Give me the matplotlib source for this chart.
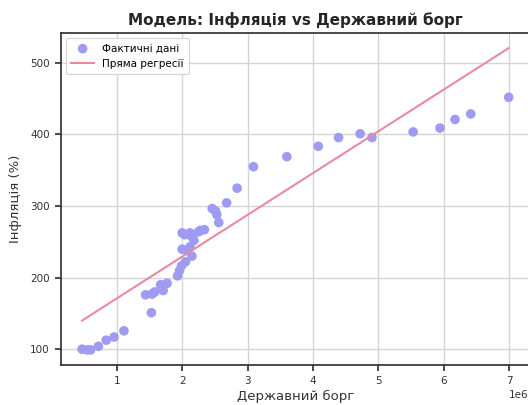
import numpy as np
import matplotlib
matplotlib.use("Agg")
import matplotlib.pyplot as plt

# Державний борг (units) and інфляція (%) observations
debt_m = [0.47, 0.55, 0.60, 0.72, 0.84, 0.96, 1.11,
          1.44, 1.53, 1.54, 1.58, 1.67, 1.71, 1.77,
          1.93, 1.96, 1.99, 2.00, 2.00, 2.04, 2.05, 2.08,
          2.12, 2.12, 2.15, 2.15, 2.18, 2.25, 2.28, 2.34,
          2.46, 2.51, 2.53, 2.56, 2.68, 2.84, 3.09,
          3.60, 4.08, 4.39, 4.72, 4.90, 5.53, 5.94, 6.17, 6.41, 6.99]
inflation = [100, 99, 99, 104, 112.6, 117, 125.7,
             176, 151, 177, 180, 190, 182, 192,
             202.5, 210, 216.5, 239.7, 262.5, 260, 222, 238,
             243, 262.5, 230, 257, 252, 264, 266, 267,
             296.5, 293, 288, 277, 304.5, 325, 355,
             369, 383.5, 395.7, 401, 395.7, 403.6, 409, 421, 428.7, 452]

# Regression line: intercept and slope per 1e6 of debt
reg_intercept = 112.5
reg_slope_m = 58.4

x = np.array(debt_m) * 1e6
y = np.array(inflation)

fig = plt.figure(figsize=(5.28, 4.05), dpi=100)
ax = fig.add_axes([60.7 / 528, 40 / 405, (530 - 60.7) / 528, (365 - 33) / 405])

ax.grid(True, color="#d4d4d4", linewidth=1.0, zorder=0)
ax.set_axisbelow(True)

ax.scatter(x, y, s=48, color="#9f9bf2", edgecolors="none", zorder=3,
           label="Фактичні дані")
xl = np.array([x.min(), x.max()])
ax.plot(xl, reg_intercept + reg_slope_m * xl / 1e6, color="#e889a6",
        linewidth=1.5, zorder=4, label="Пряма регресії")

ax.set_xticks(np.arange(1, 8) * 1e6)
ax.set_yticks([100, 200, 300, 400, 500])

for s in ax.spines.values():
    s.set_color("#333333")
    s.set_linewidth(1.25)
ax.tick_params(axis="both", direction="out", length=4, width=1.25,
               color="#333333", labelcolor="#333333", labelsize=7.5, pad=4)
off = ax.xaxis.get_offset_text()
off.set_fontsize(7.5)
off.set_color("#333333")
off.set_x(0.996)

ax.set_title("Модель: Інфляція vs Державний борг", fontsize=11,
             fontweight="bold", color="#262626", pad=6)
ax.set_xlabel("Державний борг", fontsize=9.5, color="#333333", labelpad=3)
ax.set_ylabel("Інфляція (%)", fontsize=9.5, color="#333333", labelpad=6)

leg = ax.legend(loc="upper left", fontsize=7.5, frameon=True, framealpha=0.9,
                edgecolor="#d0d0d0", borderpad=0.5, handlelength=2.2)
leg.get_frame().set_linewidth(0.8)

fig.savefig("out.png", dpi=100)
